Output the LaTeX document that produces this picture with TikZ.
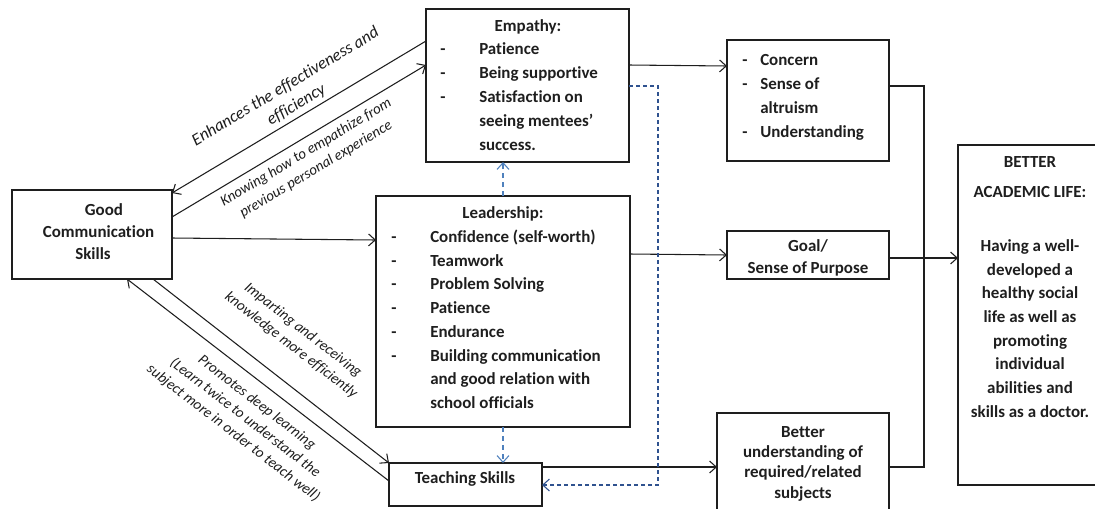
\documentclass[tikz,border=0pt]{standalone}
\usepackage{fontspec}
\setmainfont[Ligatures=NoCommon]{Carlito}
\usetikzlibrary{arrows.meta,calc}
\definecolor{ink}{RGB}{30,30,30}
\definecolor{lblue}{RGB}{79,129,189}
\definecolor{dblue}{RGB}{47,82,143}
\begin{document}
\begin{tikzpicture}[x=0.75pt,y=-0.75pt,
  box/.style={draw=ink,line width=0.9pt,inner sep=0pt,outer sep=0pt},
  txt/.style={font=\fontsize{12.7}{18}\selectfont\bfseries,text=ink,inner sep=0pt},
  lbl/.style={font=\fontsize{11.2}{14.5}\selectfont\itshape,text=ink,align=center,inner sep=0pt},
  ln/.style={draw=ink,line width=0.8pt},
  arr/.style={ln,-{Straight Barb[length=5pt,width=9pt]}},
  ldash/.style={draw=lblue,line width=0.8pt,dash pattern=on 3.75pt off 3pt,-{Straight Barb[length=5pt,width=9pt]}},
  ddash/.style={draw=dblue,line width=0.8pt,dash pattern=on 3pt off 2.25pt,-{Straight Barb[length=5pt,width=9pt]}}]
\useasboundingbox (0,0) rectangle (1095,508);
% boxes
\node[box,minimum width=120pt,minimum height=66.75pt] (gcs) at (92,234.5) {};
\node[box,minimum width=152.25pt,minimum height=114.75pt] (emp) at (527.5,85.5) {};
\node[box,minimum width=190.5pt,minimum height=173.25pt] (lead) at (503,311.5) {};
\node[box,minimum width=114.75pt,minimum height=32.25pt] (teach) at (465.5,484.5) {};
\node[box,minimum width=121.5pt,minimum height=90.75pt] (conc) at (808,100.5) {};
\node[box,minimum width=121.5pt,minimum height=36pt] (goal) at (808,255) {};
\node[box,minimum width=129pt,minimum height=80.25pt] (under) at (803,466.5) {};
\node[box,minimum width=108pt,minimum height=255pt] (bal) at (1030,315) {};
% good communication
\node[txt,anchor=base] (g1) at (104,215) {Good};
\node[txt,anchor=base] (g2) at (98.5,237) {Communication};
\node[txt,anchor=base] (g3) at (93,259) {Skills};
% empathy
\node[txt,anchor=base] (e0) at (528,31) {Empathy:};
\node[txt,anchor=base west] (ed1) at (440,54) {-};
\node[txt,anchor=base west] (ed2) at (440,78) {-};
\node[txt,anchor=base west] (ed3) at (440,102) {-};
\node[txt,anchor=base west] (e1) at (479,54) {Patience};
\node[txt,anchor=base west] (e2) at (479,78) {Being supportive};
\node[txt,anchor=base west] (e3) at (479,102) {Satisfaction on};
\node[txt,anchor=base west] (e4) at (479,126) {seeing mentees’};
\node[txt,anchor=base west] (e5) at (479,150) {success.};
% leadership
\node[txt,anchor=base] (l0) at (503,218) {Leadership:};
\foreach \yy [count=\i] in {242,266,289,313,337,361}
  \node[txt,anchor=base west] (ld\i) at (391,\yy) {-};
\node[txt,anchor=base west] (l1) at (430,242) {Confidence (self-worth)};
\node[txt,anchor=base west] (l2) at (430,266) {Teamwork};
\node[txt,anchor=base west] (l3) at (430,289) {Problem Solving};
\node[txt,anchor=base west] (l4) at (430,313) {Patience};
\node[txt,anchor=base west] (l5) at (430,337) {Endurance};
\node[txt,anchor=base west] (l6) at (430,361) {Building communication};
\node[txt,anchor=base west] (l7) at (430,384) {and good relation with};
\node[txt,anchor=base west] (l8) at (430,408) {school officials};
% teaching
\node[txt,anchor=base] (t1) at (465,483) {Teaching Skills};
% concern
\node[txt,anchor=base west] (cd1) at (742,65) {-};
\node[txt,anchor=base west] (cd2) at (742,89) {-};
\node[txt,anchor=base west] (cd3) at (742,137) {-};
\node[txt,anchor=base west] (c1) at (760,65) {Concern};
\node[txt,anchor=base west] (c2) at (760,89) {Sense of};
\node[txt,anchor=base west] (c3) at (760,113) {altruism};
\node[txt,anchor=base west] (c4) at (760,137) {Understanding};
% goal
\node[txt,anchor=base] (go1) at (808,251) {Goal/};
\node[txt,anchor=base] (go2) at (808,273) {Sense of Purpose};
% understanding
\node[txt,anchor=base] (u1) at (803,437) {Better};
\node[txt,anchor=base] (u2) at (803,457) {understanding of};
\node[txt,anchor=base] (u3) at (803,477) {required/related};
\node[txt,anchor=base] (u4) at (803,498) {subjects};
% better academic life
\node[txt,anchor=base] (b1) at (1030,167) {BETTER};
\node[txt,anchor=base] (b2) at (1030,197) {ACADEMIC LIFE:};
\foreach \t/\yy [count=\i] in {Having a well-/251,developed a/275,healthy social/298,life as well as/322,promoting/346,individual/369,abilities and/393,skills as a doctor./417}
  \node[txt,anchor=base] (bt\i) at (1030,\yy) {\t};
% connectors
\draw[arr] (emp.west |- 0,41) -- (gcs.east |- 0,193);
\draw[arr] (gcs.east |- 0,217) -- (emp.west |- 0,65);
\draw[arr] (gcs.east |- 0,238) -- (lead.west |- 0,240);
\draw[arr] (gcs.south -| 153,0) -- (teach.north west);
\draw[arr] (teach.west |- 0,481) -- (gcs.south -| 127,0);
\draw[arr] (emp.east |- 0,65) -- (conc.west |- 0,66);
\draw[arr] (lead.east |- 0,254) -- (goal.west |- 0,255);
\draw[arr] (teach.east |- 0,467) -- (under.west |- 0,467);
\coordinate (j1) at (924,86);
\coordinate (j2) at (924,467);
\draw[ln] (conc.east |- j1) -- (j1) -- (j2) -- (under.east |- j2);
\draw[arr] (goal.east |- 0,258) -- (bal.west |- 0,258);
\draw[ldash] (lead.north) -- (emp.south -| lead.north);
\draw[ldash] (lead.south) -- (teach.north -| lead.south);
\coordinate (d1) at (658,86);
\coordinate (d2) at (658,485);
\draw[ddash] (emp.east |- d1) -- (d1) -- (d2) -- (teach.east |- d2);
% labels
\node[lbl,rotate=31,font=\fontsize{12.8}{16}\selectfont\itshape] (lab1) at (291,96) {Enhances the effectiveness and\\efficiency};
\node[lbl,rotate=31] (lab2) at (311,161) {Knowing how to empathize from\\previous personal experience};
\node[lbl,rotate=-37.8] (lab3) at (297,338) {Imparting and receiving\\knowledge more efficiently};
\node[lbl,rotate=-37.7] (lab4) at (245,418) {Promotes deep learning\\(Learn twice to understand the\\subject more in order to teach well)};
\end{tikzpicture}
\end{document}
